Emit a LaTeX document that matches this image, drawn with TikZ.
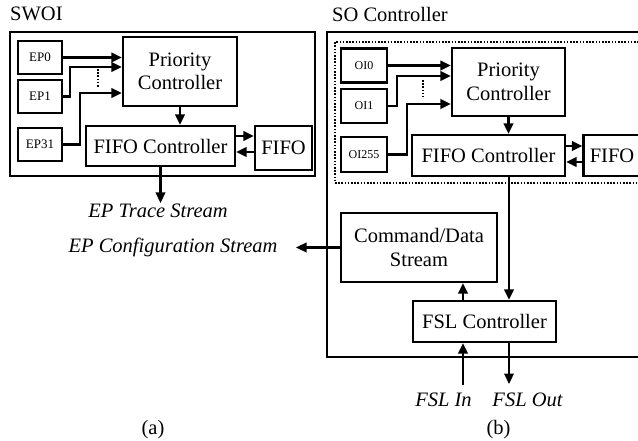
\documentclass[tikz,border=0pt]{standalone}
\usepackage{fontspec}
\setmainfont{Liberation Serif}
\usetikzlibrary{arrows.meta}
\newcommand\mainsz{\fontsize{20.5}{23.5}\selectfont}
\newcommand\epsz{\fontsize{13}{15}\selectfont}
\newcommand\oisz{\fontsize{12}{14}\selectfont}
\begin{document}
\begin{tikzpicture}[x=1pt,y=-1pt,
  blk/.style={draw, line width=2.4pt, rectangle, inner sep=0pt, align=center, font=\mainsz},
  epbox/.style={blk, minimum width=44pt, minimum height=33pt, font=\epsz},
  oibox/.style={blk, minimum width=46pt, minimum height=34pt, font=\oisz},
  frame/.style={draw, line width=2.4pt, rectangle, inner sep=0pt},
  dotframe/.style={draw, line width=1.6pt, rectangle, inner sep=0pt, dash pattern=on 1.6pt off 1.6pt},
  dots/.style={line width=1.6pt, dash pattern=on 1.6pt off 1.6pt},
  conn/.style={line width=2.3pt},
  arr/.style={conn, -{Triangle[length=10.5pt,width=9.5pt]}},
  lbl/.style={anchor=base, inner sep=0pt, font=\mainsz},
  ilbl/.style={lbl, font=\mainsz\itshape}
]
\path[use as bounding box, clip] (0,0) rectangle (638,441);
\fill[white] (0,0) rectangle (638,441);

% ---------- (a) SWOI ----------
\node[anchor=base west, inner sep=0pt, font=\mainsz] (swoiT) at (10,21) {SWOI};
\node[frame, minimum width=305pt, minimum height=144pt] (swoi) at (162.5,104) {};

\node[epbox] (ep0)  at (40,57.5)  {EP0};
\node[epbox] (ep1)  at (40,96.5)  {EP1};
\node[epbox] (ep31) at (40,144.5) {EP31};

\node[blk, minimum width=114pt, minimum height=69pt] (prio) at (180,71.5) {Priority\\Controller};
\node[blk, minimum width=149pt, minimum height=40pt] (fifoc) at (160.5,146) {FIFO Controller};
\node[blk, minimum width=57pt, minimum height=44pt] (fifo) at (283.5,148) {FIFO};

\coordinate (j1) at (70,67);
\coordinate (j2) at (80,93);
\draw[arr] (ep0.east) -- (ep0.east -| prio.west);
\draw[arr] (ep1.east) -| (j1) -- (j1 -| prio.west);
\draw[arr] (ep31.east) -| (j2) -- (j2 -| prio.west);
\coordinate (d1) at (98,69);
\coordinate (d2) at (98,87);
\draw[dots] (d1) -- (d2);

\draw[arr] (prio.south) -- (prio.south |- fifoc.north);
\coordinate (fa) at (0,136);
\coordinate (fb) at (0,152);
\draw[arr] (fa -| fifoc.east) -- (fa -| fifo.west);
\draw[arr] (fb -| fifo.west) -- (fb -| fifoc.east);

\coordinate (trace) at (160.5,203);
\draw[arr] (fifoc.south) -- (trace);
\node[ilbl] (traceT) at (158,218) {EP Trace Stream};
\node[ilbl] (confT) at (173,253) {EP Configuration Stream};
\node[lbl] (capA) at (153,434) {(a)};

% ---------- (b) SO Controller ----------
\node[anchor=base west, inner sep=0pt, font=\mainsz] (soT) at (332,22) {SO Controller};
\node[frame, minimum width=323pt, minimum height=325pt] (so) at (488.5,194.5) {};
\node[dotframe, minimum width=315pt, minimum height=141pt] (grp) at (492.5,112.5) {};

\node[oibox] (oi0)   at (364,65.5)  {OI0};
\node[oibox] (oi1)   at (364,106)   {OI1};
\node[oibox, minimum height=35pt] (oi255) at (364,154.5) {OI255};

\node[blk, minimum width=113pt, minimum height=68pt] (prio2) at (508.5,82) {Priority\\Controller};
\node[blk, minimum width=153pt, minimum height=41pt] (fifoc2) at (488.5,155.5) {FIFO Controller};
\node[blk, minimum width=57pt, minimum height=41pt] (fifo2) at (612,155.5) {FIFO};

\coordinate (k1) at (397,76);
\coordinate (k2) at (407,104);
\draw[arr] (oi0.east) -- (oi0.east -| prio2.west);
\draw[arr] (oi1.east) -| (k1) -- (k1 -| prio2.west);
\draw[arr] (oi255.east) -| (k2) -- (k2 -| prio2.west);
\coordinate (e1) at (423,80);
\coordinate (e2) at (423,97);
\draw[dots] (e1) -- (e2);

\draw[arr] (prio2.south) -- (prio2.south |- fifoc2.north);
\coordinate (ga) at (0,146);
\coordinate (gb) at (0,162);
\draw[arr] (ga -| fifoc2.east) -- (ga -| fifo2.west);
\draw[arr] (gb -| fifo2.west) -- (gb -| fifoc2.east);

\node[blk, minimum width=156pt, minimum height=69pt] (cmd) at (419,247.5) {Command/Data\\Stream};
\node[blk, minimum width=143pt, minimum height=41pt] (fsl) at (484.5,321.5) {FSL Controller};

\coordinate (xo) at (509,0);
\coordinate (xi) at (463,0);
\draw[arr] (xo |- fifoc2.south) -- (xo |- fsl.north);
\draw[arr] (xi |- fsl.north) -- (xi |- cmd.south);

\coordinate (cfg) at (296,247.5);
\draw[arr] (cmd.west) -- (cfg);

\coordinate (fin) at (463,385);
\coordinate (fout) at (509,384);
\draw[arr] (fin) -- (fin |- fsl.south);
\draw[arr] (fout |- fsl.south) -- (fout);
\node[ilbl] (finT) at (443.5,406) {FSL In};
\node[ilbl] (foutT) at (527.5,406) {FSL Out};
\node[lbl] (capB) at (498.5,434) {(b)};
\end{tikzpicture}
\end{document}
